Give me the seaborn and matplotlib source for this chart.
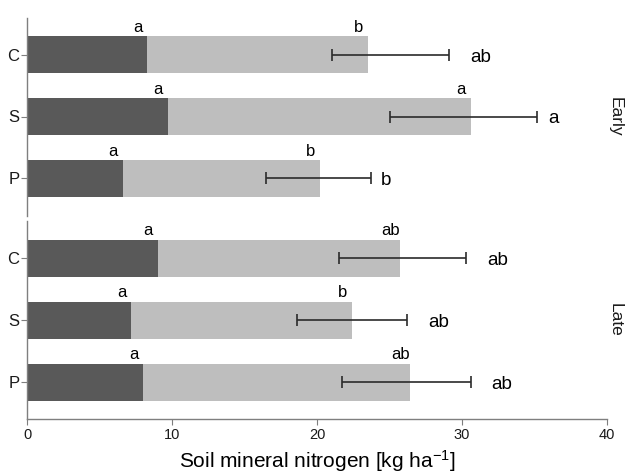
import matplotlib
matplotlib.use("Agg")
import matplotlib.pyplot as plt
from matplotlib.transforms import offset_copy
import numpy as np
import pandas as pd
import seaborn as sns

# Soil mineral nitrogen by treatment and sampling date [kg/ha]
treatments = ["C", "S", "P"]
periods = ["Early", "Late"]

# Ammonium part (dark) and total mineral N (light) per treatment
ammonium = {"Early": [8.3, 9.7, 6.6], "Late": [9.0, 7.2, 8.0]}
total_n = {"Early": [23.5, 30.6, 20.2], "Late": [25.7, 22.4, 26.4]}
# Lower / upper limits of the error bars on total mineral N
err_low = {"Early": [21.0, 25.0, 16.5], "Late": [21.5, 18.6, 21.7]}
err_high = {"Early": [29.1, 35.2, 23.7], "Late": [30.3, 26.2, 30.6]}

# Significance letters
letters_ammonium = {"Early": ["a", "a", "a"], "Late": ["a", "a", "a"]}
letters_total = {"Early": ["b", "a", "b"], "Late": ["ab", "b", "ab"]}
letters_range = {"Early": ["ab", "a", "b"], "Late": ["ab", "ab", "ab"]}

x_ticks = [0, 10, 20, 30, 40]

sns.set_theme(style="white")
plt.rcParams["font.family"] = ["Liberation Sans", "DejaVu Sans"]
plt.rcParams["mathtext.fontset"] = "custom"
plt.rcParams["mathtext.rm"] = "Liberation Sans"
plt.rcParams["mathtext.it"] = "Liberation Sans:italic"

DARK = "#595959"
LIGHT = "#bebebe"
AXIS = "#7f7f7f"

fig = plt.figure(figsize=(6.25, 4.75), dpi=100)
left, right = 27 / 625, 607 / 625
panel_boxes = {
    "Early": (left, 1 - 215.5 / 475, right - left, (215.5 - 17.5) / 475),
    "Late": (left, 1 - 419.3 / 475, right - left, (419.3 - 221) / 475),
}

axes = {}
for period in periods:
    ax = fig.add_axes(panel_boxes[period])
    axes[period] = ax
    df = pd.DataFrame({
        "treatment": treatments,
        "total": total_n[period],
        "ammonium": ammonium[period],
    })
    sns.barplot(data=df, x="total", y="treatment", order=treatments,
                color=LIGHT, saturation=1, width=0.6, ax=ax, errorbar=None,
                linewidth=0)
    sns.barplot(data=df, x="ammonium", y="treatment", order=treatments,
                color=DARK, saturation=1, width=0.6, ax=ax, errorbar=None,
                linewidth=0)

    ypos = np.arange(len(treatments))
    tot = np.array(total_n[period])
    lo = tot - np.array(err_low[period])
    hi = np.array(err_high[period]) - tot
    ax.errorbar(tot, ypos, xerr=[lo, hi], fmt="none", ecolor="#2b2b2b",
                elinewidth=1.2, capsize=4.3, capthick=1.2)

    # Letters above the ammonium and total bar ends
    for i, (am, tt) in enumerate(zip(ammonium[period], total_n[period])):
        ax.text(am - 0.65, i - 0.32, letters_ammonium[period][i],
                ha="center", va="bottom", fontsize=12, color="black")
        ax.text(tt - 0.65, i - 0.32, letters_total[period][i],
                ha="center", va="bottom", fontsize=12, color="black")

    ax.set_xlim(0, 40)
    ax.set_ylim(2.6, -0.6)
    ax.set_xlabel("")
    ax.set_ylabel("")
    for side in ["top", "right"]:
        ax.spines[side].set_visible(False)
    ax.spines["left"].set_color(AXIS)
    ax.spines["left"].set_linewidth(1.0)
    ax.tick_params(axis="y", length=4, width=0.8, color=AXIS, pad=1.5,
                   labelsize=12, labelcolor="#1a1a1a", left=True)
    ax.set_xticks(x_ticks)

    # Facet label on the right
    ax.text((615 - 27) / 580, 0.5, period, transform=ax.transAxes,
            rotation=270, ha="center", va="center", fontsize=12.5,
            color="#1a1a1a")

top_ax = axes["Early"]
top_ax.spines["bottom"].set_visible(False)
top_ax.tick_params(axis="x", bottom=False, labelbottom=False)

bot_ax = axes["Late"]
bot_ax.spines["bottom"].set_color(AXIS)
bot_ax.spines["bottom"].set_linewidth(1.0)
bot_ax.tick_params(axis="x", length=4, width=0.8, color=AXIS, pad=2.5,
                   labelsize=10.5, labelcolor="#1a1a1a", bottom=True)
bot_ax.set_xticklabels([str(t) for t in x_ticks])
bot_ax.set_xlabel(r"Soil mineral nitrogen [kg ha$^{-1}$]", fontsize=15,
                  labelpad=4, color="black")

# Letters to the right of the error bars, shifted right by their own width
fig.canvas.draw()
renderer = fig.canvas.get_renderer()
for period in periods:
    ax = axes[period]
    for i, up in enumerate(err_high[period]):
        t = ax.text(up, i + 0.04, letters_range[period][i], ha="left",
                    va="center", fontsize=13.5, color="black")
        w = t.get_window_extent(renderer=renderer).width
        t.set_transform(offset_copy(ax.transData, fig=fig, x=w, y=0,
                                    units="dots"))

fig.savefig("out.png", dpi=100)
